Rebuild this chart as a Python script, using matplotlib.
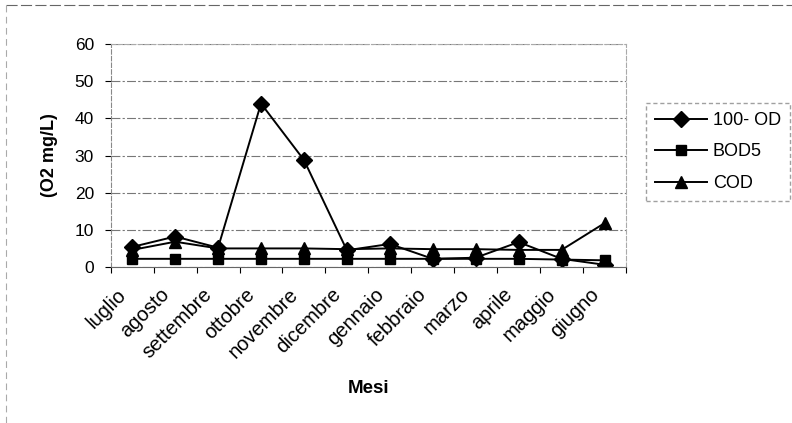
import matplotlib.pyplot as plt
import matplotlib.transforms as mtransforms
import numpy as np

plt.rcParams['font.family'] = ['Liberation Sans', 'DejaVu Sans']

mesi = ['luglio', 'agosto', 'settembre', 'ottobre', 'novembre', 'dicembre',
        'gennaio', 'febbraio', 'marzo', 'aprile', 'maggio', 'giugno']
od_100 = [5.4, 8.2, 5.2, 44, 28.8, 4.5, 6.2, 2.2, 2.5, 6.7, 2.2, 0.6]
bod5 = [2.2, 2.2, 2.2, 2.2, 2.2, 2.2, 2.2, 2.2, 2.2, 2.2, 2.0, 1.8]
cod = [4.6, 6.8, 5.0, 5.0, 5.0, 4.8, 5.0, 4.8, 4.8, 4.6, 4.6, 11.8]
y_ticks = [0, 10, 20, 30, 40, 50, 60]

fig = plt.figure(figsize=(7.92, 4.23), dpi=100)
ax = fig.add_axes([0.1398, 0.3688, 0.6506, 0.527])

x = np.arange(len(mesi))
ax.plot(x, od_100, color='black', lw=1.4, marker='D', ms=8, label='100- OD')
ax.plot(x, bod5, color='black', lw=1.4, marker='s', ms=7.5, label='BOD5')
ax.plot(x, cod, color='black', lw=1.4, marker='^', ms=9, label='COD')

ax.set_xlim(-0.5, len(mesi) - 0.5)
ax.set_ylim(0, 60)
ax.set_yticks(y_ticks)
ax.set_yticklabels([str(v) for v in y_ticks], fontsize=12.5)
ax.set_xticks(np.arange(len(mesi) + 1) - 0.5)
ax.set_xticklabels([''] * (len(mesi) + 1))
ax.tick_params(axis='x', length=4, direction='out')
ax.tick_params(axis='y', length=4, direction='out', pad=8)

# month labels, rotated like the original
blend = mtransforms.blended_transform_factory(ax.transData, ax.transAxes)
for i, m in enumerate(mesi):
    ax.text(x[i] - 0.36, -0.08, m, transform=blend, rotation=45, ha='right',
            va='top', rotation_mode='anchor', fontsize=14.5)

ax.grid(axis='y', color='#777777', lw=0.8, ls=(0, (8, 2, 2, 2)))
for side in ['top', 'right']:
    ax.spines[side].set_color('#aaaaaa')
    ax.spines[side].set_linestyle((0, (4, 2)))
ax.spines['left'].set_color('#888888')
ax.spines['left'].set_linestyle((0, (4, 2)))
ax.spines['bottom'].set_color('#666666')

ax.set_ylabel('(O2 mg/L)', fontsize=13, fontweight='bold', labelpad=12)
ax.text(0.5, -0.545, 'Mesi', transform=ax.transAxes, ha='center', va='center',
        fontsize=13.5, fontweight='bold')

leg = fig.legend(loc='upper left', bbox_to_anchor=(0.8157, 0.7565), fontsize=13,
                 frameon=True, fancybox=False, handlelength=2.9, handletextpad=0.3,
                 labelspacing=0.8, borderpad=0.5, borderaxespad=0)
leg.get_frame().set_edgecolor('#888888')
leg.get_frame().set_linestyle((0, (3, 2)))

# chart area border
fig.add_artist(plt.Line2D([0.008, 1.0], [0.988, 0.988], color='#666666', lw=0.8,
                          ls=(0, (10, 3)), transform=fig.transFigure))
fig.add_artist(plt.Line2D([0.008, 0.008], [0.0, 0.988], color='#aaaaaa', lw=0.8,
                          ls=(0, (6, 4)), transform=fig.transFigure))

fig.savefig('out.png', dpi=100)
